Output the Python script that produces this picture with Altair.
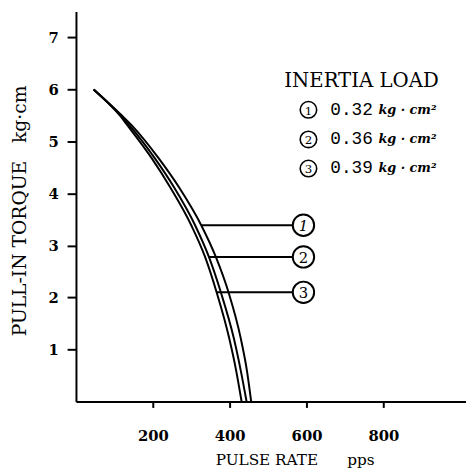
import altair as alt
import pandas as pd

# ---- data ----
torque_levels = [6.0, 5.51, 5.32, 4.68, 4.11, 3.39, 2.78, 2.10, 1.21, 0.59, 0.0]
pps_curve_1 = [46, 118, 144, 215, 269, 326, 364, 397, 429, 445, 456]   # 0.32 kg·cm²
pps_curve_2 = [46, 115, 138, 205, 256, 310, 346, 377, 411, 429, 444]   # 0.36 kg·cm²
pps_curve_3 = [46, 113, 133, 197, 246, 300, 336, 366, 399, 417, 431]   # 0.39 kg·cm²

curve_ids = ["1", "2", "3"]
inertia_values = ["0.32", "0.36", "0.39"]

leader_torque = [3.39, 2.78, 2.10]
leader_start_pps = [326, 346, 366]
leader_end_pps = [592, 592, 592]

legend_title = "INERTIA LOAD"
legend_title_pos = [743, 6.17]
legend_row_torque = [5.61, 5.04, 4.48]
legend_symbol_pps = 605
legend_value_pps = 662
legend_unit_pps = 787
unit_text = "kg · cm²"

x_ticks = [200, 400, 600, 800]
y_ticks = [1, 2, 3, 4, 5, 6, 7]
x_domain = [0, 1015]
y_domain = [0, 7.5]

NB = "\u00a0"
x_title = "PULSE" + NB + "RATE" + NB * 6 + "pps"
y_title = "PULL-IN" + NB + "TORQUE" + NB * 3 + "kg·cm"

# ---- build tables ----
rows = []
for cid, series in zip(curve_ids, [pps_curve_1, pps_curve_2, pps_curve_3]):
    for i, (p, t) in enumerate(zip(series, torque_levels)):
        rows.append({"curve": cid, "pps": p, "torque": t, "order": i})
curves_df = pd.DataFrame(rows)

leaders_df = pd.DataFrame({
    "id": curve_ids, "y": leader_torque,
    "x1": leader_start_pps, "x2": leader_end_pps,
    "italic": [True, False, False],
})

legend_df = pd.DataFrame({
    "id": curve_ids, "val": inertia_values, "unit": [unit_text] * 3,
    "y": legend_row_torque,
    "xs": [legend_symbol_pps] * 3, "xv": [legend_value_pps] * 3,
    "xu": [legend_unit_pps] * 3,
})
title_df = pd.DataFrame({"t": [legend_title], "x": [legend_title_pos[0]], "y": [legend_title_pos[1]]})

xs = alt.Scale(domain=x_domain, nice=False, zero=False)
ys = alt.Scale(domain=y_domain, nice=False, zero=False)

serif = "DejaVu Serif"

x_axis = alt.Axis(values=x_ticks, title=x_title, grid=False,
                  domainColor="black", domainWidth=2, tickColor="black", tickWidth=2,
                  tickSize=6, labelPadding=22, labelFont=serif, labelFontWeight="bold",
                  labelFontSize=15, labelColor="black",
                  titleFont=serif, titleFontWeight="normal", titleFontSize=15.5,
                  titleColor="black", titleX=222, titleY=59, titleAlign="center",
                  titleBaseline="middle")
y_axis = alt.Axis(values=y_ticks, title=y_title, grid=False,
                  domainColor="black", domainWidth=2, tickColor="black", tickWidth=2,
                  tickSize=9, labelPadding=9, labelFont=serif, labelFontWeight="bold",
                  labelFontSize=15, labelColor="black",
                  titleFont=serif, titleFontWeight="normal", titleFontSize=19,
                  titleColor="black", titleX=-57, titleY=202, titleAngle=270,
                  titleAlign="center", titleBaseline="middle")

lines = alt.Chart(curves_df).mark_line(color="black", strokeWidth=2, interpolate="monotone").encode(
    x=alt.X("pps:Q", scale=xs, axis=x_axis),
    y=alt.Y("torque:Q", scale=ys, axis=y_axis),
    detail="curve:N",
    order="order:Q",
)

leaders = alt.Chart(leaders_df).mark_rule(color="black", strokeWidth=2).encode(
    x=alt.X("x1:Q", scale=xs), x2="x2:Q", y=alt.Y("y:Q", scale=ys),
)

circles = alt.Chart(leaders_df).mark_point(shape="circle", size=470, filled=True,
                                           fill="white", stroke="black", strokeWidth=2,
                                           opacity=1).encode(
    x=alt.X("x2:Q", scale=xs), y=alt.Y("y:Q", scale=ys),
)

circle_nums_it = alt.Chart(leaders_df).transform_filter("datum.italic").mark_text(
    font=serif, fontSize=15, color="black", fontStyle="italic", dy=1).encode(
    x=alt.X("x2:Q", scale=xs), y=alt.Y("y:Q", scale=ys), text="id:N",
)
circle_nums_up = alt.Chart(leaders_df).transform_filter("!datum.italic").mark_text(
    font=serif, fontSize=15, color="black", dy=1).encode(
    x=alt.X("x2:Q", scale=xs), y=alt.Y("y:Q", scale=ys), text="id:N",
)

leg_title = alt.Chart(title_df).mark_text(font=serif, fontSize=20, color="black").encode(
    x=alt.X("x:Q", scale=xs), y=alt.Y("y:Q", scale=ys), text="t:N",
)

leg_circ = alt.Chart(legend_df).mark_point(shape="circle", size=280, filled=True,
                                           fill="white", stroke="black", strokeWidth=1.6,
                                           opacity=1).encode(
    x=alt.X("xs:Q", scale=xs), y=alt.Y("y:Q", scale=ys),
)
leg_num = alt.Chart(legend_df).mark_text(font=serif, fontSize=12, color="black", dy=1).encode(
    x=alt.X("xs:Q", scale=xs), y=alt.Y("y:Q", scale=ys), text="id:N",
)
leg_val = alt.Chart(legend_df).mark_text(font="Liberation Mono", fontSize=18, color="black",
                                         align="left").encode(
    x=alt.X("xv:Q", scale=xs), y=alt.Y("y:Q", scale=ys), text="val:N",
)
leg_unit = alt.Chart(legend_df).mark_text(font=serif, fontSize=13, fontStyle="italic",
                                          fontWeight="bold", color="black", align="left").encode(
    x=alt.X("xu:Q", scale=xs), y=alt.Y("y:Q", scale=ys), text="unit:N",
)

chart = alt.layer(lines, leaders, circles, circle_nums_it, circle_nums_up, leg_title,
                  leg_circ, leg_num, leg_val, leg_unit).properties(
    width=396, height=396,
    autosize=alt.AutoSizeParams(type="none"),
    padding={"left": 69, "top": 0, "right": 0, "bottom": 66},
    background="white",
).configure_view(stroke=None)

chart.save("out.html", embed_options={"renderer": "svg", "actions": False})
